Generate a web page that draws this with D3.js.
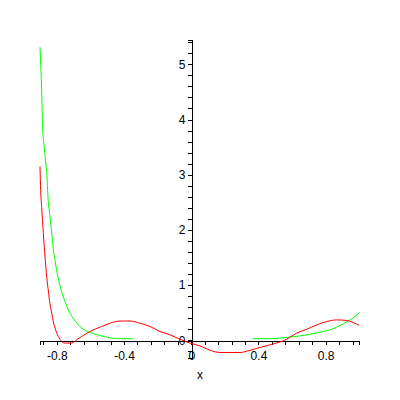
<!DOCTYPE html>
<html>
<head>
<meta charset="utf-8">
<script src="https://cdn.jsdelivr.net/npm/d3@7"></script>
<style>
  body { margin: 0; background: #fff; }
  .tick text { font-family: "Liberation Sans", Arial, sans-serif; font-size: 12px; }
</style>
</head>
<body>
<div id="chart"></div>
<script>
// Values
var redX = [-0.900, -0.896, -0.890, -0.880, -0.870, -0.860, -0.851, -0.841, -0.830, -0.821, -0.807, -0.791,
  -0.771, -0.751, -0.721, -0.702, -0.682, -0.652, -0.603, -0.533, -0.483, -0.424, -0.364, -0.305, -0.245,
  -0.186, -0.126, -0.067, -0.007, 0.052, 0.112, 0.171, 0.231, 0.290, 0.350, 0.409, 0.469, 0.528, 0.568,
  0.627, 0.687, 0.747, 0.806, 0.866, 0.925, 0.965, 1.000];
var redY = [3.15, 2.71, 2.41, 1.93, 1.51, 1.15, 0.91, 0.67, 0.49, 0.34, 0.19, 0.07,
  -0.02, -0.05, -0.05, -0.04, 0.01, 0.07, 0.16, 0.25, 0.31, 0.35, 0.35, 0.31, 0.25,
  0.16, 0.10, 0.02, -0.05, -0.10, -0.18, -0.22, -0.22, -0.22, -0.18, -0.13, -0.08, -0.03, 0.02,
  0.13, 0.20, 0.28, 0.34, 0.37, 0.36, 0.32, 0.27];

// green has a gap in the middle (null)
var greenX = [-0.900, -0.894, -0.890, -0.884, -0.876, -0.868, -0.860, -0.851, -0.840, -0.830, -0.821, -0.811,
  -0.791, -0.771, -0.751, -0.731, -0.702, -0.672, -0.632, -0.583, -0.533, -0.473, -0.424, -0.345,
  0.000,
  0.366, 0.469, 0.528, 0.588, 0.647, 0.707, 0.766, 0.826, 0.866, 0.905, 0.945, 0.975, 1.000];
var greenY = [5.31, 4.88, 4.49, 3.83, 3.53, 3.29, 3.04, 2.53, 2.23, 1.93, 1.66, 1.45,
  1.12, 0.88, 0.70, 0.55, 0.40, 0.28, 0.18, 0.12, 0.08, 0.04, 0.03, 0.03,
  null,
  0.03, 0.03, 0.04, 0.06, 0.08, 0.11, 0.15, 0.19, 0.24, 0.30, 0.37, 0.43, 0.50];

var xTickLabels = [-0.8, -0.4, 0, 0.4, 0.8];
var yTickLabels = [0, 1, 2, 3, 4, 5];

var svgWidth = 400;
var svgHeight = 400;

var svg = d3.select("#chart").append("svg")
  .attr("width", svgWidth)
  .attr("height", svgHeight);

var x = d3.scaleLinear().domain([-0.9, 1.0]).range([40, 359.3]);
var y = d3.scaleLinear().domain([-0.32, 5.44]).range([358, 40]);

// minor ticks every 0.08 on x, 0.2 on y
var xTicks = d3.range(-11, 13).map(function(i) { return +(i * 0.08).toFixed(2); });
var yTicks = d3.range(-1, 28).map(function(i) { return +(i * 0.2).toFixed(1); });

var fmt = function(d) {
  return xTickLabels.some(function(v) { return Math.abs(v - d) < 1e-9; }) ? String(d) : "";
};
var fmtY = function(d) {
  return yTickLabels.indexOf(d) >= 0 ? String(d) : "";
};

var x0 = Math.round(x(0)) + 0.5;
var y0 = Math.round(y(0)) + 0.5;

var xAxis = svg.append("g")
  .attr("transform", "translate(0," + y0 + ")")
  .call(d3.axisBottom(x).tickValues(xTicks).tickSize(4).tickSizeOuter(4).tickPadding(7).tickFormat(fmt));

var yAxis = svg.append("g")
  .attr("transform", "translate(" + x0 + ",0)")
  .call(d3.axisLeft(y).tickValues(yTicks).tickSize(4).tickSizeOuter(4).tickPadding(2).tickFormat(fmtY));

svg.selectAll(".domain, .tick line").attr("stroke", "#000").attr("shape-rendering", "crispEdges");
svg.selectAll(".tick text").attr("fill", "#000");

// axis title
svg.append("text")
  .attr("x", 200)
  .attr("y", 379)
  .attr("text-anchor", "middle")
  .style("font-family", "Liberation Sans, Arial, sans-serif")
  .style("font-size", "12px")
  .text("x");

var line = d3.line()
  .defined(function(d) { return d[1] !== null; })
  .x(function(d) { return x(d[0]); })
  .y(function(d) { return y(d[1]); })
  .curve(d3.curveMonotoneX);

var greenData = greenX.map(function(v, i) { return [v, greenY[i]]; });
var redData = redX.map(function(v, i) { return [v, redY[i]]; });

svg.append("path")
  .datum(greenData)
  .attr("fill", "none")
  .attr("stroke", "#00ff00")
  .attr("stroke-width", 1)
  .attr("d", line);

svg.append("path")
  .datum(redData)
  .attr("fill", "none")
  .attr("stroke", "#ff0000")
  .attr("stroke-width", 1)
  .attr("d", line);
</script>
</body>
</html>
